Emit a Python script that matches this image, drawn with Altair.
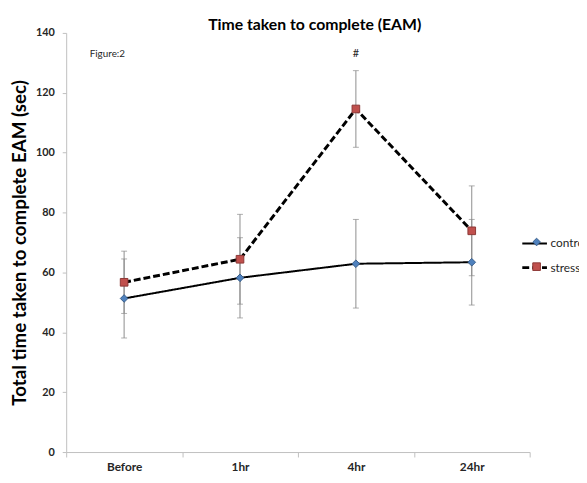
import altair as alt
import pandas as pd

times = ["Before", "1hr", "4hr", "24hr"]
series = ["control", "stress"]
marker_keys = ["m-control", "m-stress"]
control_mean = [51.3, 58.2, 62.9, 63.4]
control_err = [13.2, 13.4, 14.8, 14.3]
stress_mean = [56.7, 64.4, 114.6, 73.9]
stress_err = [10.4, 15.0, 12.8, 15.0]
y_ticks = [0, 20, 40, 60, 80, 100, 120, 140]
fig_note = {"text": ["Figure:2"], "time": ["Before"], "y": [133]}
sig_note = {"text": ["#"], "time": ["4hr"], "y": [133]}

rows = []
for s, k, means, errs in [("control", marker_keys[0], control_mean, control_err),
                          ("stress", marker_keys[1], stress_mean, stress_err)]:
    for t, m, e in zip(times, means, errs):
        rows.append({"time": t, "series": s, "group": k, "mean": m, "lo": m - e, "hi": m + e})
df = pd.DataFrame(rows)

FONT = "Lato"
AX = "#bfbfbf"

x = alt.X("time:N", sort=times,
          scale=alt.Scale(type="band", domain=times, paddingInner=0, paddingOuter=0),
          axis=alt.Axis(title=None, tickBand="extent", labelFont=FONT, labelFontWeight="bold",
                        labelFontSize=12, labelColor="#262626", labelPadding=5, tickSize=5,
                        tickColor=AX, domainColor=AX, labelAngle=0, grid=False))
y_scale = alt.Scale(domain=[0, 140], nice=False, zero=True)
y_axis = alt.Axis(title="Total time taken to complete EAM (sec)", values=y_ticks, grid=False,
                  labelFont=FONT, labelFontWeight="bold", labelFontSize=11, labelColor="#262626",
                  labelPadding=8, tickSize=4, tickColor=AX, domainColor=AX,
                  titleFont=FONT, titleFontSize=19, titleFontWeight="bold", titleColor="black",
                  titlePadding=6)

base = alt.Chart(df)
err_rule = base.mark_rule(color="#8c8c8c", strokeWidth=1).encode(
    x=x, y=alt.Y("lo:Q", scale=y_scale, axis=y_axis), y2="hi:Q")
cap_lo = base.mark_tick(color="#8c8c8c", thickness=1, size=6).encode(x=x, y="lo:Q")
cap_hi = base.mark_tick(color="#8c8c8c", thickness=1, size=6).encode(x=x, y="hi:Q")

lines = base.mark_line(color="black").encode(
    x=x, y="mean:Q",
    strokeDash=alt.StrokeDash("series:N", scale=alt.Scale(domain=series, range=[[1, 0], [7, 3]]),
                              legend=alt.Legend(orient="none", legendX=461, legendY=200, title=None,
                                                symbolType="stroke", symbolSize=625,
                                                symbolStrokeColor="black", symbolStrokeWidth=2.5,
                                                labelFont=FONT, labelFontSize=12, labelColor="#262626",
                                                labelOffset=2, rowPadding=4, padding=0)),
    strokeWidth=alt.StrokeWidth("series:O", scale=alt.Scale(domain=series, range=[2, 3]), legend=None),
)

points = base.mark_point(filled=True, opacity=1, size=60, strokeWidth=1).encode(
    x=x, y="mean:Q",
    shape=alt.Shape("group:N", scale=alt.Scale(domain=marker_keys, range=["diamond", "square"]),
                    legend=alt.Legend(orient="none", legendX=471, legendY=206, title=None,
                                      symbolSize=60, symbolStrokeWidth=1,
                                      labelOpacity=0, labelFont=FONT, labelFontSize=12,
                                      rowPadding=13, padding=0)),
    fill=alt.Fill("group:N", scale=alt.Scale(domain=marker_keys, range=["#4f81bd", "#c0504d"])),
    stroke=alt.Stroke("group:N", scale=alt.Scale(domain=marker_keys, range=["#385d8a", "#8c3836"])),
)

fig_text = alt.Chart(pd.DataFrame(fig_note)).mark_text(
    font=FONT, fontSize=10, color="#262626", dx=-17).encode(x=x, y="y:Q", text="text:N")
sig_text = alt.Chart(pd.DataFrame(sig_note)).mark_text(
    font=FONT, fontSize=11, color="#262626").encode(x=x, y="y:Q", text="text:N")

chart = alt.layer(err_rule, cap_lo, cap_hi, lines, points, fig_text, sig_text).properties(
    width=470, height=425,
    title=alt.TitleParams("Time taken to complete (EAM)", font=FONT, fontSize=16, fontWeight="bold",
                          color="black", dx=17, dy=10),
    autosize=alt.AutoSizeParams(type="none"),
    padding={"left": 59, "top": 22, "right": 50, "bottom": 20},
).configure_view(stroke=None)

chart.save("out.html", embed_options={"renderer": "svg", "actions": False})
